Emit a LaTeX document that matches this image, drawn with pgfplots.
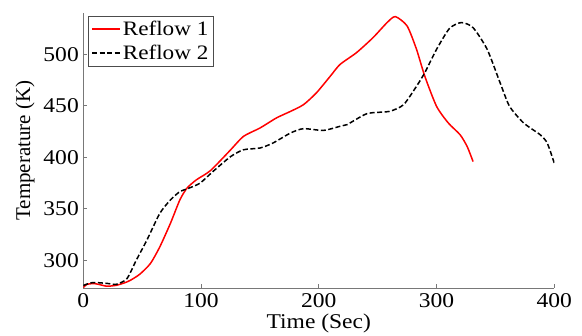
\documentclass[border=0pt]{standalone}
\usepackage{fontspec}
\setmainfont{Liberation Serif}[FakeStretch=1.12]
\newfontfamily\plainfont{Liberation Serif}
\usepackage{graphicx}
\usepackage{pgfplots}
\pgfplotsset{compat=1.18}
\definecolor{axgray}{RGB}{120,120,120}
\newcommand{\legtext}[1]{\scalebox{1.13}[1]{\plainfont #1}}
\begin{document}
\begin{tikzpicture}
\begin{axis}[
  scale only axis,
  width=471pt, height=275pt,
  xmin=0, xmax=400, ymin=273, ymax=540,
  axis lines*=left,
  axis line style={axgray, line width=0.8pt, -},
  every tick/.style={axgray, line width=0.6pt},
  tick align=inside,
  major tick length=3.5pt,
  xtick={0,100,200,300,400},
  ytick={300,350,400,450,500},
  font=\fontsize{21}{24}\selectfont,
  /pgf/number format/assume math mode=true,
  ticklabel style={font=\fontsize{21}{24}\selectfont},
  xticklabel style={yshift=-2pt},
  yticklabel style={xshift=-1pt},
  xlabel={Time (Sec)},
  ylabel={\plainfont Temperature (K)},
  xlabel style={yshift=1pt},
  ylabel style={yshift=2pt},
  legend style={at={(axis description cs:0,1)}, anchor=north west, xshift=4.7pt, yshift=-3pt,
    draw=black!70, line width=0.5pt, inner xsep=3pt, inner ysep=3pt, row sep=4pt,
    font=\fontsize{20.5}{24}\selectfont},
  legend cell align=left,
  legend image code/.code={\draw[#1] (0pt,0pt) -- (28pt,0pt);},
]
\addlegendimage{draw=red, line width=1.6pt, solid}
\addlegendentry{\legtext{Reflow 1}}
\addlegendimage{draw=black, line width=1.6pt, dash pattern=on 5pt off 2.5pt}
\addlegendentry{\legtext{Reflow 2}}
\addplot[red, line width=1.5pt, smooth, tension=0.4, forget plot] coordinates {
(0,273.4) (3,276.5) (9,277.3) (15,276) (20,274.7) (28,275.6) (35,278) (40,280.5)
(48,286.4) (57,296.8) (65,313) (74,335.8) (82,358.5) (88,369.9) (96,378) (108,387)
(125,407) (136,420.2) (150,428.3) (164,438.1) (176,444.5) (187,451) (198,462.5)
(210,479) (218,490) (232,501.5) (246,516) (258,530.7) (265,536.5) (275,527.4)
(283,504.7) (290,478.7) (300,449.4) (310,433.2) (320,421.8) (326,410.4) (331,395.8)
};
\addplot[black, line width=1.5pt, dash pattern=on 5pt off 2.5pt, smooth, tension=0.4, forget plot] coordinates {
(0,275.5) (8,278.3) (20,277.5) (28,276.6) (37,282) (45,300) (54,319.5) (65,345.5)
(74,358.5) (82,366.6) (88,369.2) (99,374.7) (110,386) (125,400.5) (136,407.2)
(150,408.9) (161,413.7) (176,423.5) (187,427.7) (204,426) (218,430) (224,431.6)
(241,442.3) (260,444.5) (272,451) (283,468.9) (290,482) (300,504.7) (311,525)
(321,530.7) (331,525.8) (343,504.7) (354,472.2) (362,449.4) (374,433.2) (388,421.8)
(394,413.7) (400,394.2)
};
\end{axis}
\path (-83.3pt,-46pt) rectangle (498.7pt,288pt);
\end{tikzpicture}
\end{document}
